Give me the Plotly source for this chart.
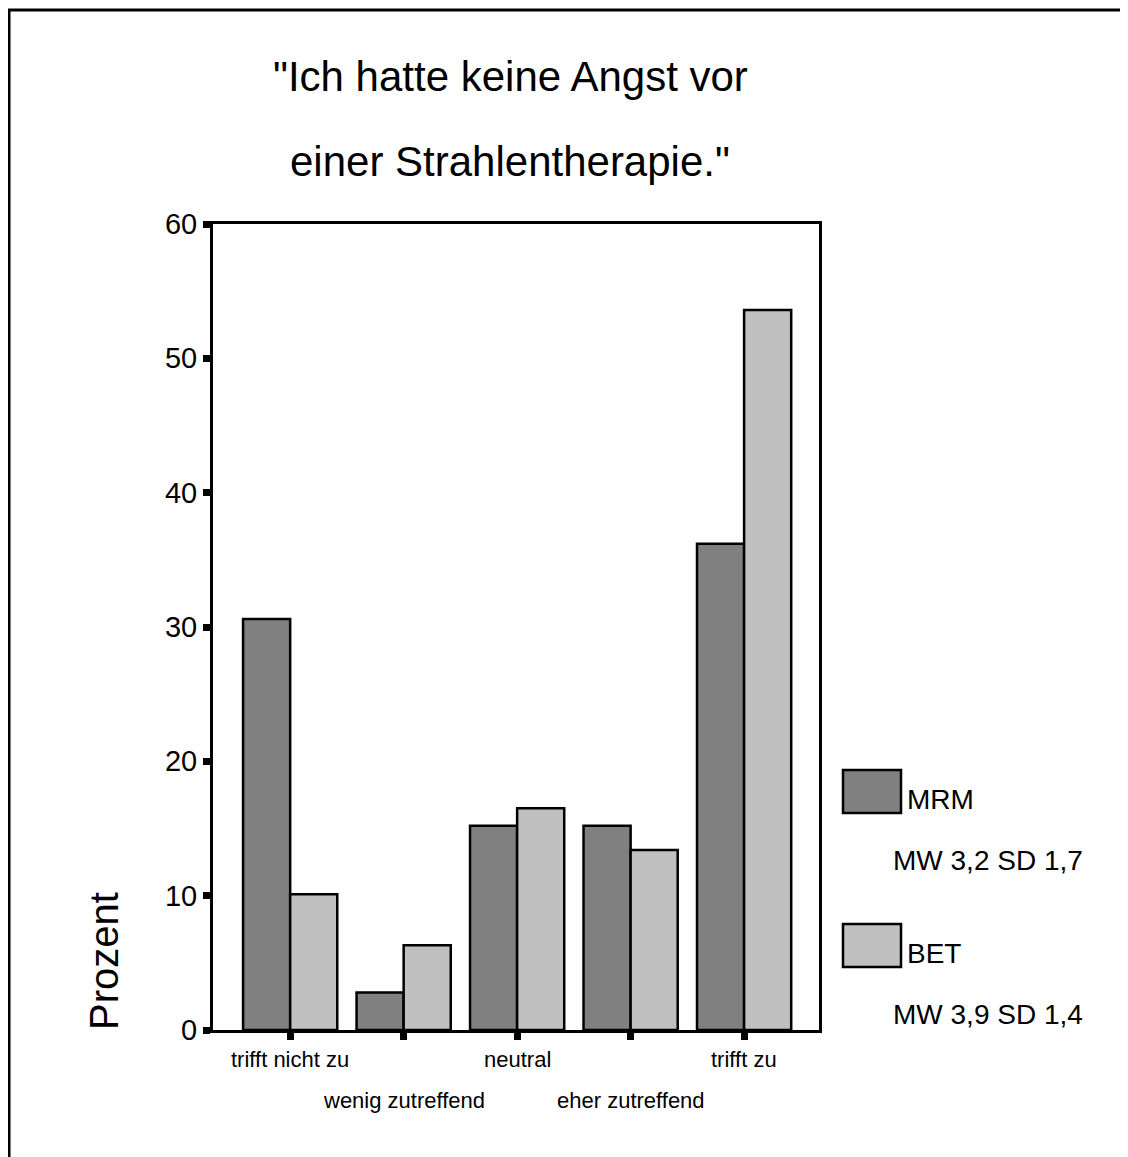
import plotly.graph_objects as go

# Data
categories = ["trifft nicht zu", "wenig zutreffend", "neutral", "eher zutreffend", "trifft zu"]
mrm_values = [30.6, 2.8, 15.2, 15.2, 36.2]
bet_values = [10.1, 6.3, 16.5, 13.4, 53.6]
series_names = ["MRM", "BET"]
series_stats = ["MW 3,2 SD 1,7", "MW 3,9 SD 1,4"]
title_lines = ['"Ich hatte keine Angst vor', 'einer Strahlentherapie."']
y_ticks = [0, 10, 20, 30, 40, 50, 60]

MRM_COLOR = "#808080"
BET_COLOR = "#c0c0c0"
FONT = "Liberation Sans, Arial, sans-serif"

# page is drawn with an 8px body margin, so work in page pixels and shift
OFF = 8
W, H = 1128 - OFF, 1157 - OFF
PLOT_L, PLOT_R, PLOT_T, PLOT_B = 213, 819, 224, 1030
L, T = PLOT_L - OFF, PLOT_T - OFF
R, B = W - (PLOT_R - OFF), H - (PLOT_B - OFF)
PW, PH = W - L - R, H - T - B


def px(x):
    # page pixel x -> paper x
    return (x - OFF - L) / PW


def py(y):
    # page pixel y -> paper y
    return 1 - (y - OFF - T) / PH


def label(text, x, y, size, xref="paper", **kw):
    return dict(text=text, x=x, y=y, xref=xref, yref="paper", showarrow=False,
                xanchor=kw.pop("xanchor", "center"), yanchor="middle",
                font=dict(size=size, color="black", family=FONT), **kw)


x_idx = list(range(len(categories)))

fig = go.Figure()
fig.add_trace(go.Bar(x=x_idx, y=mrm_values, name=series_names[0], marker_color=MRM_COLOR,
                     marker_line=dict(color="black", width=2.5)))
fig.add_trace(go.Bar(x=x_idx, y=bet_values, name=series_names[1], marker_color=BET_COLOR,
                     marker_line=dict(color="black", width=2.5)))

annotations = []
# title, two widely spaced lines
for i, line in enumerate(title_lines):
    annotations.append(label(line, px(510), py([76, 161][i]), 42))

# category labels, staggered in two rows
for i, cat in enumerate(categories):
    annotations.append(label(cat, i, py(1059 if i % 2 == 0 else 1100), 22, xref="x"))

# y axis title near the bottom
annotations.append(label("Prozent", px(104), py(961), 40, textangle=-90))

# hand made legend
shapes = []
for i, (name, stat, col) in enumerate(zip(series_names, series_stats, [MRM_COLOR, BET_COLOR])):
    top = 770 + i * 154
    shapes.append(dict(type="rect", xref="paper", yref="paper", x0=px(843), x1=px(901),
                       y0=py(top), y1=py(top + 43), fillcolor=col, line=dict(color="black", width=2.5)))
    annotations.append(label(name, px(905), py(top + 29), 28, xanchor="left"))
    annotations.append(label(stat, px(891), py(top + 90), 28, xanchor="left"))

# outer frame (only top and left edges fall inside the picture)
shapes.append(dict(type="rect", xref="paper", yref="paper", x0=px(9), x1=px(1160), y0=py(10), y1=py(1190),
                   line=dict(color="black", width=3), fillcolor="rgba(0,0,0,0)", layer="below"))

fig.update_layout(
    width=W, height=H,
    margin=dict(l=L, r=R, t=T, b=B),
    paper_bgcolor="white", plot_bgcolor="white",
    barmode="group", bargap=0.17, bargroupgap=0,
    showlegend=False,
    font=dict(family=FONT, color="black"),
    annotations=annotations,
    shapes=shapes,
)
fig.update_xaxes(range=[-0.68, 4.66], tickvals=x_idx, ticktext=[""] * len(categories),
                 ticks="outside", ticklen=7, tickwidth=7, tickcolor="black",
                 showline=True, linecolor="black", linewidth=3, mirror=True,
                 showgrid=False, zeroline=False, fixedrange=True)
fig.update_yaxes(range=[0, 60], tickvals=y_ticks, ticks="outside", ticklen=7, tickwidth=7,
                 tickcolor="black", tickfont=dict(size=29, color="black", family=FONT),
                 showline=True, linecolor="black", linewidth=3, mirror=True,
                 showgrid=False, zeroline=False, fixedrange=True)

fig.write_html("out.html")
